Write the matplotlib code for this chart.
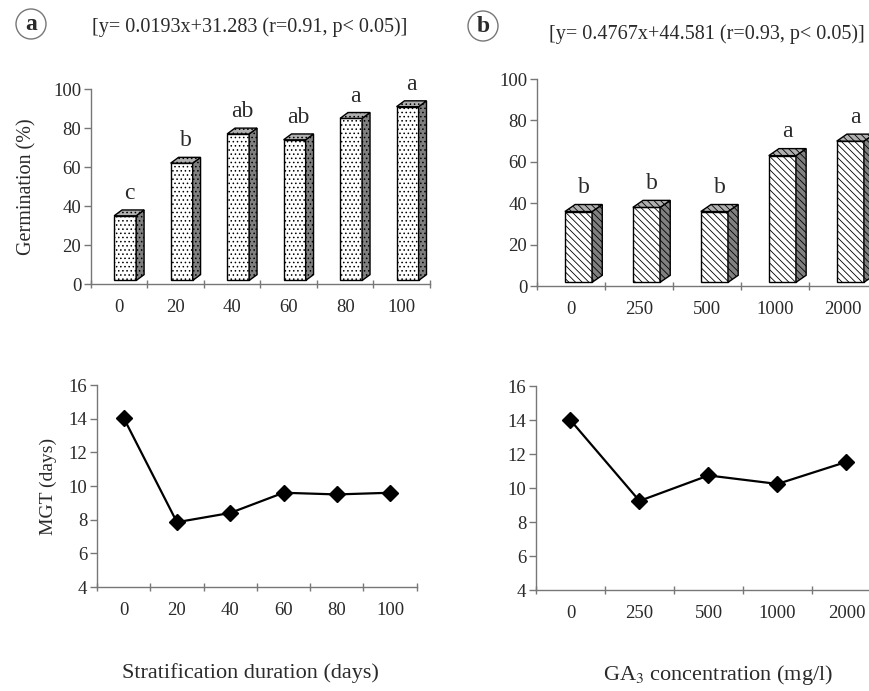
import numpy as np
import matplotlib.pyplot as plt
from matplotlib.patches import Polygon, Ellipse

plt.rcParams['font.family'] = ['Liberation Serif', 'DejaVu Serif']
plt.rcParams['hatch.linewidth'] = 0.6

# data
strat_days = ["0", "20", "40", "60", "80", "100"]
strat_germ = [35, 62, 77, 74, 85, 91]
strat_letters = ["c", "b", "ab", "ab", "a", "a"]
strat_mgt = [14.05, 7.85, 8.4, 9.6, 9.5, 9.6]

ga_conc = ["0", "250", "500", "1000", "2000"]
ga_germ = [36, 38, 36, 63, 70]
ga_letters = ["b", "b", "b", "a", "a"]
ga_mgt = [14.0, 9.25, 10.75, 10.25, 11.55]

TXT = "#2a2a2a"
AX = "#777777"
W, H = 869, 691


def style_axes(ax, ylim, yticks):
    ax.set_ylim(*ylim)
    ax.set_yticks(yticks)
    for s in ["top", "right"]:
        ax.spines[s].set_visible(False)
    for s in ["left", "bottom"]:
        ax.spines[s].set_color(AX)
        ax.spines[s].set_linewidth(1.0)
    ax.tick_params(axis="y", colors=AX, labelcolor=TXT, labelsize=13.5, length=5, width=1.0, pad=2)
    ax.tick_params(axis="x", which="minor", colors=AX, length=6, width=1.0, direction="inout")
    ax.tick_params(axis="x", which="major", length=0, labelcolor=TXT, labelsize=13.5, pad=11)


def bars_3d(ax, values, letters, hatch, width, dx, dy, shift, floor):
    n = len(values)
    x = np.arange(n)
    left = x - shift
    ax.bar(left, np.array(values) - floor, bottom=floor, width=width, align="edge",
           facecolor="white", edgecolor="black", hatch=hatch, linewidth=1.0, zorder=3)
    for l, v in zip(left, values):
        r = l + width
        side = Polygon([(r, floor), (r + dx, floor + dy), (r + dx, v + dy), (r, v)],
                       closed=True, facecolor="#808080", edgecolor="black",
                       hatch=hatch, linewidth=1.0, zorder=3)
        top = Polygon([(l, v), (l + dx, v + dy), (r + dx, v + dy), (r, v)],
                      closed=True, facecolor="#b0b0b0", edgecolor="black",
                      hatch=hatch, linewidth=1.0, zorder=3)
        ax.add_patch(side)
        ax.add_patch(top)
    for xi, v, t in zip(x, values, letters):
        ax.text(xi + width / 2 - shift + dx / 2, v + dy + 3, t, ha="center", va="bottom",
                fontsize=17, color=TXT)
    ax.set_xlim(-0.5, n - 0.5)
    ax.set_xticks(x)
    ax.set_xticks(np.arange(n + 1) - 0.5, minor=True)


fig = plt.figure(figsize=(8.69, 6.91), dpi=100)

# panel a, germination
ax1 = fig.add_axes([0.1047, 0.589, 0.390, 0.282])
style_axes(ax1, (0, 100), range(0, 101, 20))
bars_3d(ax1, strat_germ, strat_letters, "....", 0.39, 0.14, 3.0, 0.09, 1.8)
ax1.set_xticklabels(strat_days)
ax1.set_ylabel("Germination (%)", fontsize=14.5, color=TXT, labelpad=12)

# panel b, germination
ax2 = fig.add_axes([0.618, 0.586, 0.391, 0.2996])
style_axes(ax2, (0, 100), range(0, 101, 20))
bars_3d(ax2, ga_germ, ga_letters, "\\\\\\\\\\", 0.40, 0.15, 3.4, 0.09, 1.8)
ax2.set_xticklabels(ga_conc)

# panel a, MGT
ax3 = fig.add_axes([0.1116, 0.1505, 0.368, 0.2923])
style_axes(ax3, (4, 16), range(4, 17, 2))
ax3.plot(range(len(strat_mgt)), strat_mgt, color="black", lw=1.6, marker="D", ms=8, zorder=3)
ax3.set_xlim(-0.5, len(strat_mgt) - 0.5)
ax3.set_xticks(range(len(strat_mgt)))
ax3.set_xticks(np.arange(len(strat_mgt) + 1) - 0.5, minor=True)
ax3.set_xticklabels(strat_days)
ax3.set_ylabel("MGT (days)", fontsize=14, color=TXT, labelpad=8)

# panel b, MGT
ax4 = fig.add_axes([0.6168, 0.146, 0.397, 0.295])
style_axes(ax4, (4, 16), range(4, 17, 2))
ax4.plot(range(len(ga_mgt)), ga_mgt, color="black", lw=1.6, marker="D", ms=8, zorder=3)
ax4.set_xlim(-0.5, len(ga_mgt) - 0.5)
ax4.set_xticks(range(len(ga_mgt)))
ax4.set_xticks(np.arange(len(ga_mgt) + 1) - 0.5, minor=True)
ax4.set_xticklabels(ga_conc)

fig.text(250 / W, 1 - 673 / H, "Stratification duration (days)", ha="center", va="center",
         fontsize=16, color=TXT)
fig.text(718 / W, 1 - 675 / H, "GA$_3$ concentration (mg/l)", ha="center", va="center",
         fontsize=16, color=TXT, math_fontfamily="stix")

# panel letters and regression equations
for cx, cy, letter in [(31, 24, "a"), (483, 26, "b")]:
    fig.patches.append(Ellipse((cx / W, 1 - cy / H), 30 / W, 30 / H, transform=fig.transFigure,
                               fill=False, edgecolor="#777777", lw=1.0))
    fig.text(cx / W, 1 - (cy + 1) / H, letter, ha="center", va="center", fontsize=17,
             fontweight="bold", color=TXT)

fig.text(250 / W, 1 - 27 / H, "[y= 0.0193x+31.283 (r=0.91, p< 0.05)]",
         ha="center", va="center", fontsize=14.5, color=TXT)
fig.text(707 / W, 1 - 34 / H, "[y= 0.4767x+44.581 (r=0.93, p< 0.05)]",
         ha="center", va="center", fontsize=14.5, color=TXT)

fig.savefig("out.png", dpi=100)
